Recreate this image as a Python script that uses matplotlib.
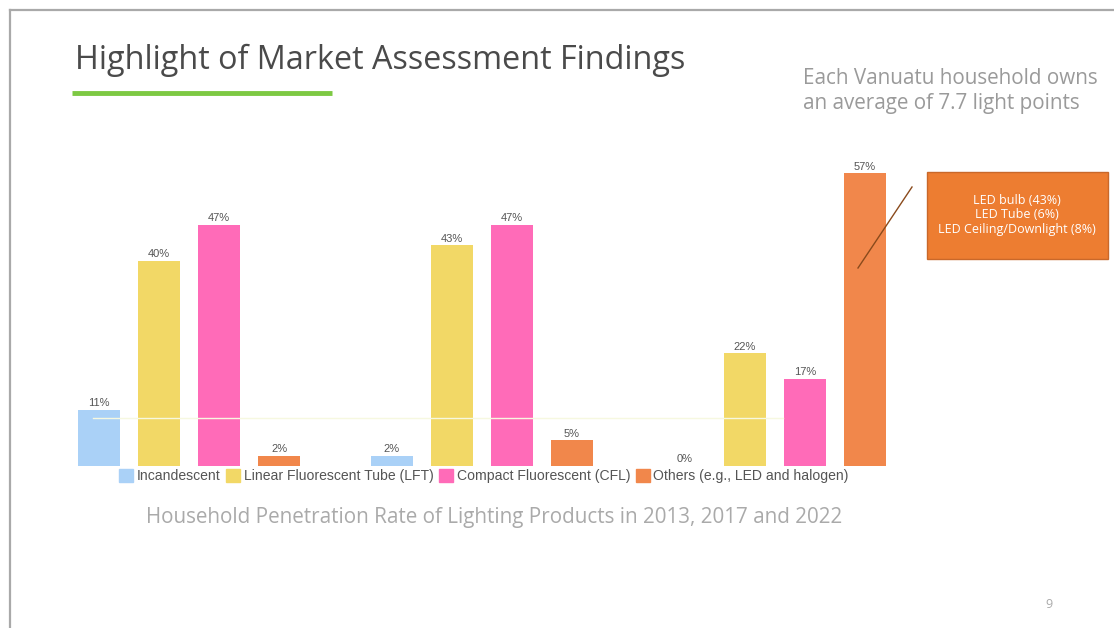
import matplotlib.pyplot as plt
from matplotlib.patches import Rectangle
from matplotlib.lines import Line2D

plt.rcParams['font.family'] = ['Liberation Sans', 'DejaVu Sans']

# Data: household penetration (%) by survey year
years = ['2013', '2017', '2022']
categories = ['Incandescent', 'Linear Fluorescent Tube (LFT)',
              'Compact Fluorescent (CFL)', 'Others (e.g., LED and halogen)']
incandescent = [11, 2, 0]
lft = [40, 43, 22]
cfl = [47, 47, 17]
others = [2, 5, 57]
colors = ['#aad1f7', '#f2d866', '#ff6bb8', '#f1874b']

W, H = 1114, 628
fig = plt.figure(figsize=(W / 100, H / 100), dpi=100)
fig.patch.set_facecolor('white')


def fx(px):
    return px / W


def fy(py):
    return 1 - py / H


# slide border (top + left)
fig.add_artist(Line2D([fx(10), fx(10)], [fy(10), 0], color='#a9a9a9', lw=1.6))
fig.add_artist(Line2D([fx(10), 1], [fy(10), fy(10)], color='#a9a9a9', lw=1.6))

# title and green underline
fig.text(fx(75), fy(60), 'Highlight of Market Assessment Findings', family='Open Sans',
         fontsize=23.3, color='#4a4a4a', va='center', ha='left')
fig.add_artist(Line2D([fx(72), fx(332)], [fy(93), fy(93)], color='#7dc943', lw=3.5,
                      solid_capstyle='butt'))

fig.text(fx(803), fy(91), 'Each Vanuatu household owns\nan average of 7.7 light points',
         family='Open Sans', fontsize=14.85, color='#9a9a9a', va='center', ha='left',
         linespacing=1.3)

# chart area
px_per_unit = 60
ax_left, ax_right = 60, 900
base_y, top_y = 466, 158
ax = fig.add_axes([fx(ax_left), fy(base_y), fx(ax_right - ax_left), (base_y - top_y) / H])
first_center = 99
x0 = -(first_center - ax_left) / px_per_unit
ax.set_xlim(x0, x0 + (ax_right - ax_left) / px_per_unit)
ax.set_ylim(0, 60)
ax.axis('off')

group_step = 293 / px_per_unit
series = [incandescent, lft, cfl, others]
for i, (vals, col) in enumerate(zip(series, colors)):
    xs = [g * group_step + i for g in range(len(years))]
    ax.bar(xs, vals, width=0.7, color=col, zorder=2)
    for x, v in zip(xs, vals):
        ax.text(x, v + 0.3, f'{v}%', ha='center', va='bottom', fontsize=8, color='#555555')

# faint guide line
ax.plot([-0.1, 11.4], [9.4, 9.4], color='#f6f8e0', lw=1, zorder=3)

# legend under the bars
fig.legend(handles=[Rectangle((0, 0), 1, 1, color=c) for c in colors], labels=categories,
           loc='center', bbox_to_anchor=(fx(484), fy(476)), ncol=4, frameon=False,
           fontsize=10.1, handlelength=1.0, handleheight=1.0, handletextpad=0.25,
           columnspacing=0.4, labelcolor='#555555', borderpad=0)

fig.text(fx(494), fy(517), 'Household Penetration Rate of Lighting Products in 2013, 2017 and 2022',
         family='Open Sans', fontsize=14.9, color='#aaaaaa', ha='center', va='center')

# orange call-out box
fig.add_artist(Rectangle((fx(927), fy(259)), fx(181), (259 - 172) / H, facecolor='#ed7d31',
                         edgecolor='#c9682a', lw=1))
fig.text(fx(1017), fy(215), 'LED bulb (43%)\nLED Tube (6%)\nLED Ceiling/Downlight (8%)',
         family='Open Sans', fontsize=9, color='white', ha='center', va='center',
         linespacing=1.1)
fig.add_artist(Line2D([fx(912), fx(858)], [fy(187), fy(268)], color='#8a4a1c', lw=1))

fig.text(fx(1049), fy(605), '9', family='Open Sans', fontsize=9, color='#aaaaaa',
         ha='center', va='center')

fig.savefig('out.png', dpi=100)
